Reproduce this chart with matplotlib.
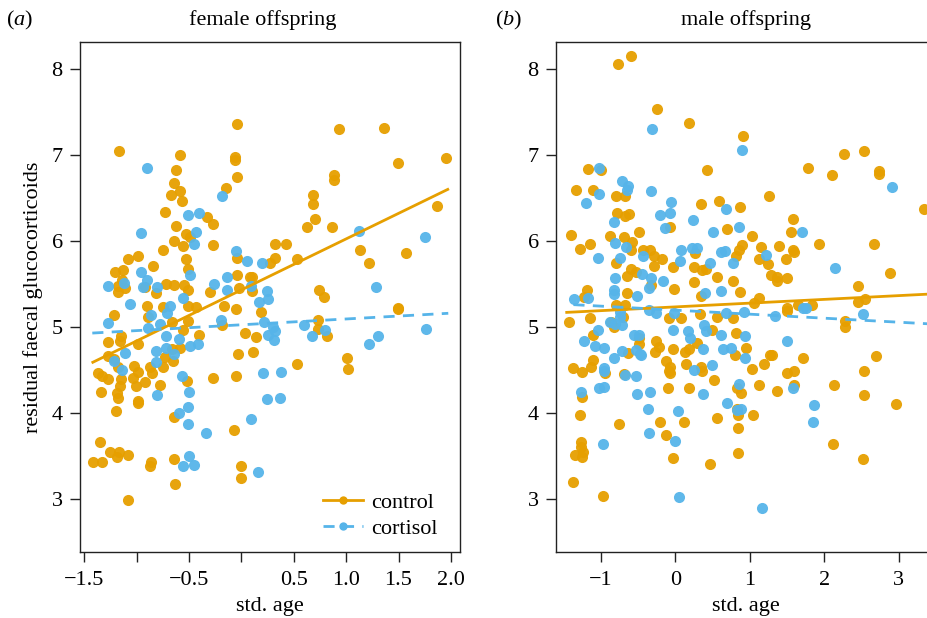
import matplotlib
matplotlib.use("Agg")
import matplotlib.pyplot as plt
import numpy as np
from matplotlib.lines import Line2D

plt.rcParams['font.family'] = ['Liberation Serif', 'DejaVu Serif']
plt.rcParams['mathtext.fontset'] = 'custom'
plt.rcParams['mathtext.rm'] = 'Liberation Serif'
plt.rcParams['mathtext.it'] = 'Liberation Serif:italic'

ORANGE = '#E69F00'
BLUE = '#56B4E9'

# ---------------- data: female offspring (a) ----------------
fem_ctrl_x = [-1.167, -0.04, -0.587, -0.062, -0.062, -0.629, -0.04, -0.645, -0.587, -0.151,
              -0.673, -0.571, -0.734, -0.33, -0.275, -0.629, -0.53, -0.495, -0.645, -0.559,
              -0.275, -0.747, -1.081, -0.992, -0.53, -0.508, -0.848, -1.208, -1.135, -0.04,
              -0.04, 0.08, 0.10, -1.177, -1.113, -1.177, -1.145, -0.922, -0.82, -0.718,
              -0.645, -0.546, -0.508, -0.304, -0.024, 0.097, -0.906, -0.747, -0.508, -0.438,
              -0.17, -0.05,
              0.93, 1.364, 1.956, 1.495, 0.887, 0.887, 0.686, 0.686, 0.702, 0.629,
              0.861, 1.87, 0.323, 0.422, 0.32, 0.27, 0.527, 1.135, 1.221, 1.568,
              0.74, 0.788, 1.495,
              -1.215, -0.89, -0.667, -0.508, 0.186, -0.19, -1.278, -1.151, -1.16, -0.992,
              -0.562, -0.406, 0.034, 0.138, -0.037, 0.113, -1.278, -1.215, -1.183, -0.667,
              -0.731, -0.651, -0.747, -0.587, -0.874, -0.858, -1.023, -0.985, -1.033, -1.011,
              -1.374, -1.336, -1.272, -1.151, -1.16, -1.342, -1.192, -1.183, -0.992, -0.992,
              -0.922, -0.776, -0.524, -0.269, -0.053, -1.195, -0.645, -0.069, -1.355, -1.256,
              -1.192, -1.167, -1.081, -1.415, -1.336, -0.864, -0.874, -0.648, -0.008, -0.008,
              -0.632, -1.081,
              1.495, 0.727, 0.727, 0.814, 0.527, 1.005, 1.02]
fem_ctrl_y = [7.05, 7.36, 7.00, 6.98, 6.94, 6.83, 6.75, 6.68, 6.58, 6.62,
              6.53, 6.46, 6.34, 6.28, 6.20, 6.18, 6.08, 6.05, 6.00, 5.94,
              5.95, 5.90, 5.79, 5.83, 5.79, 5.68, 5.71, 5.64, 5.66, 5.80,
              5.61, 5.58, 5.58, 5.48, 5.45, 5.41, 5.55, 5.47, 5.39, 5.50,
              5.49, 5.49, 5.43, 5.41, 5.45, 5.42, 5.25, 5.23, 5.25, 5.23,
              5.24, 5.21,
              7.30, 7.31, 6.97, 6.91, 6.77, 6.71, 6.53, 6.43, 6.26, 6.16,
              6.16, 6.41, 5.96, 5.97, 5.80, 5.74, 5.79, 5.90, 5.74, 5.86,
              5.43, 5.35, 5.22,
              5.14, 5.12, 5.06, 5.07, 5.18, 5.02, 4.83, 4.89, 4.84, 4.80,
              4.97, 4.91, 4.93, 4.88, 4.69, 4.71, 4.66, 4.63, 4.54, 4.75,
              4.65, 4.61, 4.54, 4.76, 4.54, 4.46, 4.55, 4.48, 4.41, 4.31,
              4.47, 4.43, 4.40, 4.40, 4.31, 4.24, 4.23, 4.17, 4.14, 4.12,
              4.36, 4.33, 4.37, 4.41, 4.43, 4.02, 3.95, 3.80, 3.66, 3.55,
              3.49, 3.55, 3.51, 3.43, 3.43, 3.43, 3.38, 3.46, 3.38, 3.24,
              3.18, 2.99,
              5.21, 5.08, 4.98, 4.90, 4.57, 4.64, 4.51]

fem_cort_x = [-0.906, -0.183, -0.508, -0.403, -0.438, -0.45, -0.963, -0.056, 0.049, 0.199,
              -0.963, -0.906, -1.272, -1.122, -0.94, -0.804, -0.495, -0.26, -0.138, -0.141,
              0.091, 0.24, -1.063, -0.683, -0.556, 0.17, 1.122, 1.756, 1.282, 0.257,
              -1.272, -0.865, -0.897, -0.78, -0.716, -0.72, -0.724, -0.597, -0.199, 0.218,
              0.25, -1.113, -1.215, -1.138, -0.817, -0.817, -0.648, -0.492, -0.412, -0.571,
              -0.498, -0.81, -0.514, -0.597, -0.514, -0.339, 0.202, 0.24, 0.091, -0.501,
              -0.556, -0.457, 0.161,
              0.60, 0.67, 0.798, 0.30, 0.32, 0.31, 0.377, 0.367, 1.218, 1.307, 1.759]
fem_cort_y = [6.85, 6.52, 6.30, 6.32, 6.10, 5.97, 6.09, 5.88, 5.77, 5.75,
              5.64, 5.55, 5.48, 5.51, 5.47, 5.47, 5.60, 5.50, 5.58, 5.43,
              5.48, 5.42, 5.27, 5.24, 5.34, 5.29, 6.12, 6.05, 5.47, 5.33,
              5.05, 5.14, 4.99, 5.03, 5.16, 4.89, 4.76, 4.86, 5.08, 5.06,
              4.91, 4.70, 4.60, 4.50, 4.72, 4.59, 4.69, 4.78, 4.80, 4.43,
              4.25, 4.21, 4.07, 4.00, 3.87, 3.77, 4.47, 4.16, 3.93, 3.50,
              3.38, 3.40, 3.31,
              5.02, 4.90, 4.97, 5.00, 4.95, 4.85, 4.48, 4.17, 4.80, 4.89, 4.98]

# ---------------- data: male offspring (b) ----------------
mal_ctrl_x = [-0.777, -0.593, -0.243, 0.18, 0.912, 0.418, -1.168, -1.002, -1.339, -1.101,
              -0.795, -0.674, 0.337, 0.584, 0.867, -0.786, -0.674, -0.62, -0.067, 0.696,
              -1.406, -1.28, -1.146, -0.885, -0.696, -0.584, -0.485, -0.597, -0.436, -0.346,
              -0.292, -0.18, -0.283, -0.036, 0.261, 0.247, 0.359, 0.409, 0.898, 0.853,
              0.809, -0.795, -0.597, -0.526, -0.652, 0.562, 0.768, 0.247, -0.022, -0.652,
              -1.19, -1.226, -0.795, -0.674, 0.337, 0.867, -0.328,
              2.26, 2.534, 1.783, 2.098, 2.74, 2.74, 1.262, 3.342, 1.581, 1.55,
              1.033, 1.923, 2.664, 1.146, 1.393, 1.586, 1.595, 1.123, 1.244, 1.49,
              1.28, 1.37, 1.36, 1.496, 2.88, 2.448, 1.123, 1.055, 2.448, 2.547,
              1.496, 1.829, 1.64,
              -1.424, -1.146, -1.11, -0.831, -0.867, -0.705, -1.37, -1.249, -1.11, -1.132,
              -0.952, -0.687, -0.638, -0.485, -0.26, -0.225, -0.27, -0.494, -0.031, -0.085,
              0.076, 0.135, 0.18, 0.292, 0.328, 0.494, 0.553, 0.809, 0.777, 0.795,
              -0.121, -0.067, -0.076, -0.09, 0.148, 0.337, 0.359, -0.099, 0.18, 0.517,
              -1.258, -1.28, -0.764, -0.202, -0.121, 0.112, 0.553, -1.271, -1.271, -1.348,
              -1.258, -1.244, -0.036, 0.467, -1.37, -0.979, 0.831, 0.876, 0.831, 0.84,
              0.84, 0.84,
              2.695, 2.538, 1.707, 1.271, 1.303, 1.19, 1.033, 0.944, 1.595, 1.492,
              1.595, 1.123, 1.361, 2.134, 2.538, 2.965, 1.047, 2.111, 2.52, 2.278,
              2.278, 1.492]
mal_ctrl_y = [8.06, 8.15, 7.54, 7.37, 7.22, 6.83, 6.84, 6.83, 6.59, 6.59,
              6.52, 6.52, 6.43, 6.46, 6.40, 6.32, 6.29, 6.31, 6.16, 6.14,
              6.07, 5.91, 5.97, 6.06, 6.05, 5.99, 6.10, 5.90, 5.90, 5.90,
              5.82, 5.79, 5.71, 5.70, 5.86, 5.70, 5.66, 5.67, 5.95, 5.90,
              5.82, 5.74, 5.67, 5.64, 5.59, 5.58, 5.54, 5.52, 5.44, 5.40,
              5.43, 5.35, 5.26, 5.26, 5.36, 5.41, 5.49,
              7.01, 7.05, 6.85, 6.77, 6.81, 6.78, 6.52, 6.37, 6.26, 6.10,
              6.06, 5.97, 5.97, 5.93, 5.94, 5.90, 5.87, 5.79, 5.73, 5.79,
              5.60, 5.54, 5.58, 5.57, 5.63, 5.48, 5.34, 5.28, 5.29, 5.32,
              5.22, 5.26, 5.26,
              5.06, 5.10, 4.91, 5.00, 5.06, 5.12, 4.52, 4.48, 4.62, 4.53,
              4.46, 4.45, 4.70, 4.80, 4.84, 4.77, 4.71, 4.87, 4.74, 5.10,
              5.10, 4.71, 4.75, 4.81, 5.15, 4.97, 5.12, 4.93, 5.10, 4.68,
              4.60, 4.54, 4.46, 4.49, 4.57, 4.54, 4.49, 4.29, 4.29, 4.38,
              4.19, 3.98, 3.87, 3.89, 3.74, 3.89, 3.94, 3.66, 3.60, 3.51,
              3.49, 3.55, 3.48, 3.41, 3.20, 3.03, 4.29, 4.23, 4.05, 3.98,
              3.82, 3.53,
              4.66, 4.49, 4.64, 4.68, 4.67, 4.57, 4.51, 4.76, 4.49, 4.46,
              4.33, 4.32, 4.26, 4.33, 4.21, 4.11, 3.98, 3.64, 3.47, 5.07,
              5.00, 5.19]

mal_cort_x = [-0.314, 0.889, -1.033, -0.719, -0.638, -0.651, -1.02, -1.195, -0.328, -0.054,
              -0.067, -0.202, -0.827, 0.238, -0.135, 0.683, 0.503, 0.854, -0.809, -0.665,
              -1.042, -0.741, -0.436, 0.081, 0.067, 0.225, 0.292, 0.606, 0.665, 0.463,
              0.777, -0.449, -0.328, -0.166, -0.809, -0.822, -0.822, -0.36, -0.517, 0.391,
              0.606, -1.357, -1.177,
              2.911, 1.694, 1.213, 2.147, 1.71, 1.75,
              -1.042, -1.222, -1.078, -0.961, -0.885, -0.809, -0.719, -0.741, -0.741, -0.822,
              -0.719, -0.562, -0.485, -0.526, -0.472, -0.463, -0.957, -0.957, -0.674, -0.526,
              -1.024, -0.957, -1.267, -0.517, -0.346, -0.373, -0.36, -0.979, -0.031, -0.36,
              -0.256, -0.022, 0.171, 0.202, 0.382, 0.413, 0.373, 0.606, 0.638, 0.741,
              0.247, 0.494, 0.364, 0.687, 0.822, 0.876, 0.854, 0.031, 0.0, 0.045,
              0.921, 0.93, 0.93, 0.674,
              1.334, 1.496, 1.581, 1.855, 1.842, 1.159, 2.525]
mal_cort_y = [7.30, 7.06, 6.85, 6.70, 6.64, 6.59, 6.55, 6.44, 6.58, 6.45,
              6.32, 6.30, 6.22, 6.24, 6.15, 6.37, 6.10, 6.16, 5.98, 5.93,
              5.80, 5.80, 5.82, 5.89, 5.77, 5.92, 5.92, 5.87, 5.88, 5.75,
              5.74, 5.62, 5.57, 5.54, 5.57, 5.43, 5.38, 5.45, 5.36, 5.40,
              5.42, 5.32, 5.34,
              6.63, 6.10, 5.84, 5.69, 5.22, 5.22,
              4.96, 4.84, 4.78, 4.76, 5.06, 5.04, 5.02, 5.18, 5.12, 4.64,
              4.72, 4.91, 4.91, 4.73, 4.69, 4.67, 4.52, 4.49, 4.44, 4.43,
              4.29, 4.30, 4.24, 4.22, 4.25, 4.05, 3.77, 3.64, 4.97, 5.20,
              5.16, 5.16, 4.95, 4.87, 5.02, 4.95, 4.75, 4.91, 4.75, 4.76,
              4.50, 4.56, 4.22, 4.12, 4.03, 4.05, 4.34, 4.02, 3.67, 3.02,
              5.18, 4.89, 4.64, 5.16,
              5.13, 4.84, 4.29, 4.09, 3.90, 2.90, 5.15]

# fitted lines: (intercept, slope, x_from, x_to)
fem_ctrl_fit = (5.432, 0.593, -1.42, 1.97)
fem_cort_fit = (5.026, 0.0676, -1.425, 1.975)
mal_ctrl_fit = (5.234, 0.0437, -1.46, 3.45)
mal_cort_fit = (5.196, -0.0467, -1.37, 3.45)

fem_xticks = [-1.5, -1.0, -0.5, 0.0, 0.5, 1.0, 1.5, 2.0]
fem_xticklabels = ['\u22121.5', '', '\u22120.5', '', '0.5', '1.0', '1.5', '2.0']
mal_xticks = [-1, 0, 1, 2, 3]
mal_xticklabels = ['\u22121', '0', '1', '2', '3']
yticks = [3, 4, 5, 6, 7, 8]

# ---------------- figure ----------------
W, H = 928, 618
fig = plt.figure(figsize=(W / 100, H / 100), dpi=100)

def px_axes(l, t, r, b):
    return fig.add_axes([l / W, 1 - b / H, (r - l) / W, (b - t) / H])

axA = px_axes(80, 42, 460, 552)
axB = px_axes(556, 42, 936, 552)

FS = 16

def draw_fit(ax, fit, color, dashes=None):
    a, b, x0, x1 = fit
    xx = np.array([x0, x1])
    if dashes:
        ax.plot(xx, a + b * xx, color=color, lw=2.0, dashes=dashes, zorder=4)
    else:
        ax.plot(xx, a + b * xx, color=color, lw=2.0, zorder=4)

for ax, cx, cy, tx, ty, fc, ft in [
        (axA, fem_ctrl_x, fem_ctrl_y, fem_cort_x, fem_cort_y, fem_ctrl_fit, fem_cort_fit),
        (axB, mal_ctrl_x, mal_ctrl_y, mal_cort_x, mal_cort_y, mal_ctrl_fit, mal_cort_fit)]:
    ax.plot(cx, cy, 'o', color=ORANGE, ms=8, mew=0, alpha=0.95, zorder=3)
    ax.plot(tx, ty, 'o', color=BLUE, ms=8, mew=0, alpha=0.95, zorder=3)
    draw_fit(ax, fc, ORANGE)
    draw_fit(ax, ft, BLUE, dashes=(4, 3))
    ax.set_ylim(2.384, 8.314)
    ax.set_yticks(yticks)
    ax.set_yticklabels([str(v) for v in yticks])
    for s in ax.spines.values():
        s.set_linewidth(1.0)
        s.set_color('#222222')
    ax.tick_params(direction='out', length=7.5, width=1.0, labelsize=FS, pad=5, colors='#222222')
    ax.tick_params(axis='x', pad=6)
    ax.tick_params(axis='both', labelcolor='black')
    ax.set_xlabel('std. age', fontsize=FS, labelpad=5.5)

axA.set_xlim(-1.5425, 2.087)
axA.set_xticks(fem_xticks)
axA.set_xticklabels(fem_xticklabels)
axB.set_xlim(-1.604, 3.50)
axB.set_xticks(mal_xticks)
axB.set_xticklabels(mal_xticklabels)

axA.set_ylabel('residual faecal glucocorticoids', fontsize=FS, labelpad=6)

fig.text(263 / W, 1 - 20 / H, 'female offspring', ha='center', va='center', fontsize=FS)
fig.text(746 / W, 1 - 20 / H, 'male offspring', ha='center', va='center', fontsize=FS)
fig.text(20 / W, 1 - 20 / H, r'($\mathit{a}$)', ha='center', va='center', fontsize=FS)
fig.text(509 / W, 1 - 20 / H, r'($\mathit{b}$)', ha='center', va='center', fontsize=FS)

handles = [Line2D([0], [0], color=ORANGE, lw=2.0, marker='o', ms=6, mew=0),
           Line2D([0], [0], color=BLUE, lw=2.0, dashes=(4, 3), marker='o', ms=6, mew=0)]
axA.legend(handles, ['control', 'cortisol'], loc='lower right', frameon=False,
           fontsize=FS, handlelength=1.8, handletextpad=0.35, labelspacing=0.25,
           bbox_to_anchor=(0.975, 0.0), borderaxespad=0.2, numpoints=1)

fig.savefig('out.png', dpi=100)
